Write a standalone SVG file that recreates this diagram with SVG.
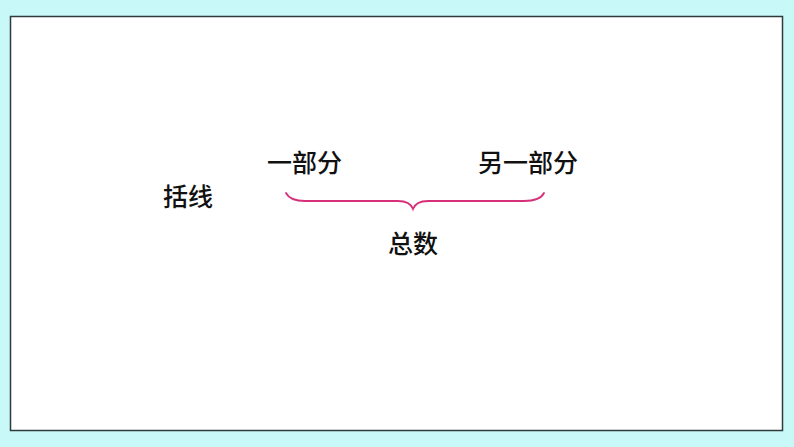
<svg xmlns="http://www.w3.org/2000/svg" width="794" height="447" viewBox="0 0 794 447">
<style>
.t{font-family:"Noto Sans CJK SC","Noto Sans CJK TC",sans-serif;font-size:25px;font-weight:500;fill:#111;}
</style>
<rect x="0" y="0" width="794" height="447" fill="#c9f8f8"/>
<rect id="frame" x="10.5" y="16.5" width="772" height="414" fill="#ffffff" stroke="#2f3a3a" stroke-width="1.5"/>
<g id="label-kuoxian"><text class="t" x="163" y="206">括线</text></g>
<g id="label-part1"><text class="t" x="267" y="172">一部分</text></g>
<g id="label-part2"><text class="t" x="478" y="172">另一部分</text></g>
<g id="label-total"><text class="t" x="388" y="253">总数</text></g>
<g id="connectors">
<path id="brace" d="M286,193 Q290,201 305,201 L398,201 Q410,201 413,209 Q416,201 428,201 L524,201 Q540,201 544,193" fill="none" stroke="#d6307a" stroke-width="1.8" stroke-linecap="round"/>
</g>
</svg>
